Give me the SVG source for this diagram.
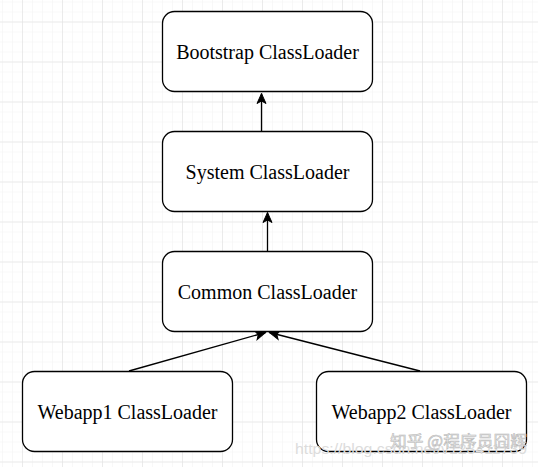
<svg xmlns="http://www.w3.org/2000/svg" width="538" height="467" viewBox="0 0 538 467">
  <defs>
    <pattern id="minor" x="2" y="1.5" width="10" height="10" patternUnits="userSpaceOnUse">
      <path d="M0 0 H10 M0 0 V10" fill="none" stroke="#f2f2f2" stroke-width="1"/>
    </pattern>
    <pattern id="major" x="22" y="21.5" width="40" height="40" patternUnits="userSpaceOnUse">
      <path d="M0 0 H40 M0 0 V40" fill="none" stroke="#dedede" stroke-width="1"/>
    </pattern>
    <marker id="arrow" markerUnits="userSpaceOnUse" markerWidth="12" markerHeight="12" viewBox="-11 -6 12 12" refX="0" refY="0" orient="auto">
      <path d="M-10 -4.5 L0 0 L-10 4.5 L-7.5 0 Z" fill="#000" stroke="#000" stroke-width="1"/>
    </marker>
    <style>
      .box { fill: #ffffff; stroke: #000000; stroke-width: 1.3; }
      .label { font-family: "Liberation Serif", "Times New Roman", serif; font-size: 20px; fill: #000000; text-anchor: middle; }
      .edge { fill: none; stroke: #000000; stroke-width: 1.3; marker-end: url(#arrow); }
      .wm { font-family: "Noto Sans CJK SC", "Liberation Sans", sans-serif; font-size: 16px; fill: #e8e8e8; stroke: #b5b5b5; stroke-width: 0.5; }
      .url { font-family: "Liberation Sans", Arial, sans-serif; font-size: 15px; fill: #dcdcdc; }
    </style>
  </defs>

  <rect width="538" height="467" fill="#ffffff"/>
  <rect width="538" height="467" fill="url(#minor)"/>
  <rect width="538" height="467" fill="url(#major)"/>

  <g id="connectors">
    <line class="edge" x1="261.5" y1="131" x2="261.5" y2="93.5"/>
    <line class="edge" x1="267.5" y1="251" x2="267.5" y2="212.5"/>
    <line class="edge" x1="129" y1="371" x2="265.5" y2="332.5"/>
    <line class="edge" x1="420" y1="371" x2="269.5" y2="332.5"/>
  </g>

  <g id="bootstrap">
    <rect class="box" x="162.5" y="11.5" width="210" height="80" rx="12" ry="12"/>
    <text class="label" x="267.5" y="59">Bootstrap ClassLoader</text>
  </g>

  <g id="system">
    <rect class="box" x="162.5" y="131.5" width="210" height="80" rx="12" ry="12"/>
    <text class="label" x="267.5" y="179">System ClassLoader</text>
  </g>

  <g id="common">
    <rect class="box" x="162.5" y="251.5" width="210" height="80" rx="12" ry="12"/>
    <text class="label" x="267.5" y="299">Common ClassLoader</text>
  </g>

  <g id="webapp1">
    <rect class="box" x="22.5" y="371.5" width="210" height="80" rx="12" ry="12"/>
    <text class="label" x="127.5" y="419">Webapp1 ClassLoader</text>
  </g>

  <g id="webapp2">
    <rect class="box" x="316.5" y="371.5" width="210" height="80" rx="12" ry="12"/>
    <text class="label" x="421.5" y="419">Webapp2 ClassLoader</text>
  </g>

  <g id="watermark">
    <text class="url" x="295" y="454" textLength="232" lengthAdjust="spacingAndGlyphs">https://blog.csdn.net/v123411739</text>
    <text class="wm" x="390" y="447" textLength="137" lengthAdjust="spacingAndGlyphs">知乎 @程序员囧辉</text>
  </g>
</svg>
